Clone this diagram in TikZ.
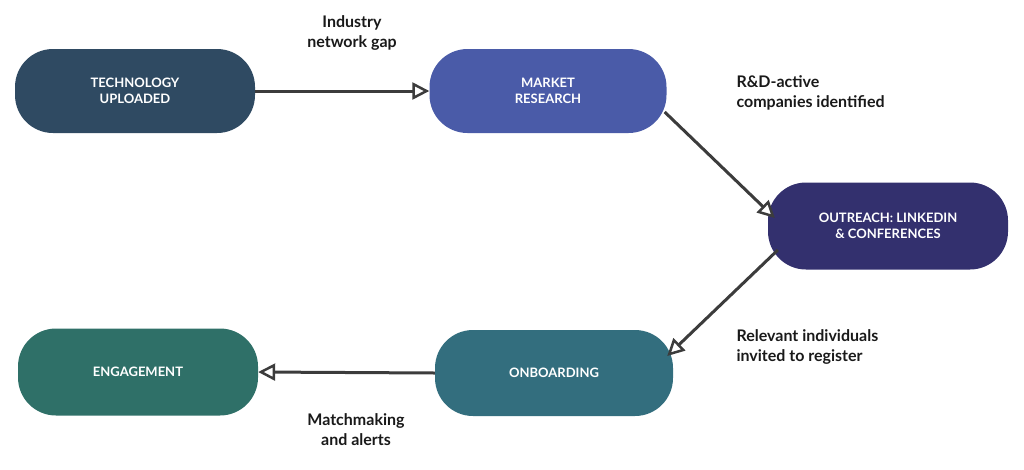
\documentclass[tikz,border=0pt]{standalone}
\usepackage{fontspec}
\setmainfont{Lato}
\usetikzlibrary{arrows.meta,calc}
\definecolor{ctech}{HTML}{2F4A62}
\definecolor{cmr}{HTML}{4A5BA8}
\definecolor{cout}{HTML}{33306E}
\definecolor{conb}{HTML}{336E7E}
\definecolor{ceng}{HTML}{2F7068}
\definecolor{carr}{HTML}{3C3C3C}
\begin{document}
\begin{tikzpicture}[x=1pt,y=-1pt,
  box/.style={rounded corners=38pt,minimum width=240pt,minimum height=84pt,text=white,font=\bfseries\fontsize{13}{16}\selectfont,align=center,inner sep=0pt},
  lab/.style={font=\bfseries\fontsize{16}{20}\selectfont,text=black!90,align=left},
  arr/.style={carr,line width=3pt,-{Triangle[open,fill=white,length=17pt,width=17pt,line width=2.5pt]}}]
\useasboundingbox (0,0) rectangle (1024,469);
\node[box,fill=ctech] (tech) at (135,91) {TECHNOLOGY\\UPLOADED};
\node[box,fill=cmr,minimum width=237pt] (mr) at (548,91) {MARKET\\RESEARCH};
\node[box,fill=cout,minimum height=87pt] (out) at (888,226) {OUTREACH: LINKEDIN\\\& CONFERENCES};
\node[box,fill=conb,minimum width=238pt,minimum height=86pt] (onb) at (554,373) {ONBOARDING};
\node[box,fill=ceng,minimum height=87pt] (eng) at (138,372) {ENGAGEMENT};
\draw[arr] (tech.east) -- (mr.west);
\draw[arr] ($(mr.east)+(-2,21)$) -- ($(out.west)+(7,-8)$);
\draw[arr] ($(out.west)+(10,24)$) -- ($(onb.east)+(-6,-17)$);
\draw[arr] (onb.west) -- (eng.east);
\node[lab,align=center] (l1) at (352,33) {Industry\\network gap};
\node[lab,anchor=west] (l2) at (733,93) {R\&D-active\\companies identified};
\node[lab,anchor=west] (l3) at (733,347) {Relevant individuals\\invited to register};
\node[lab,align=center] (l4) at (356,430) {Matchmaking\\and alerts};
\end{tikzpicture}
\end{document}
